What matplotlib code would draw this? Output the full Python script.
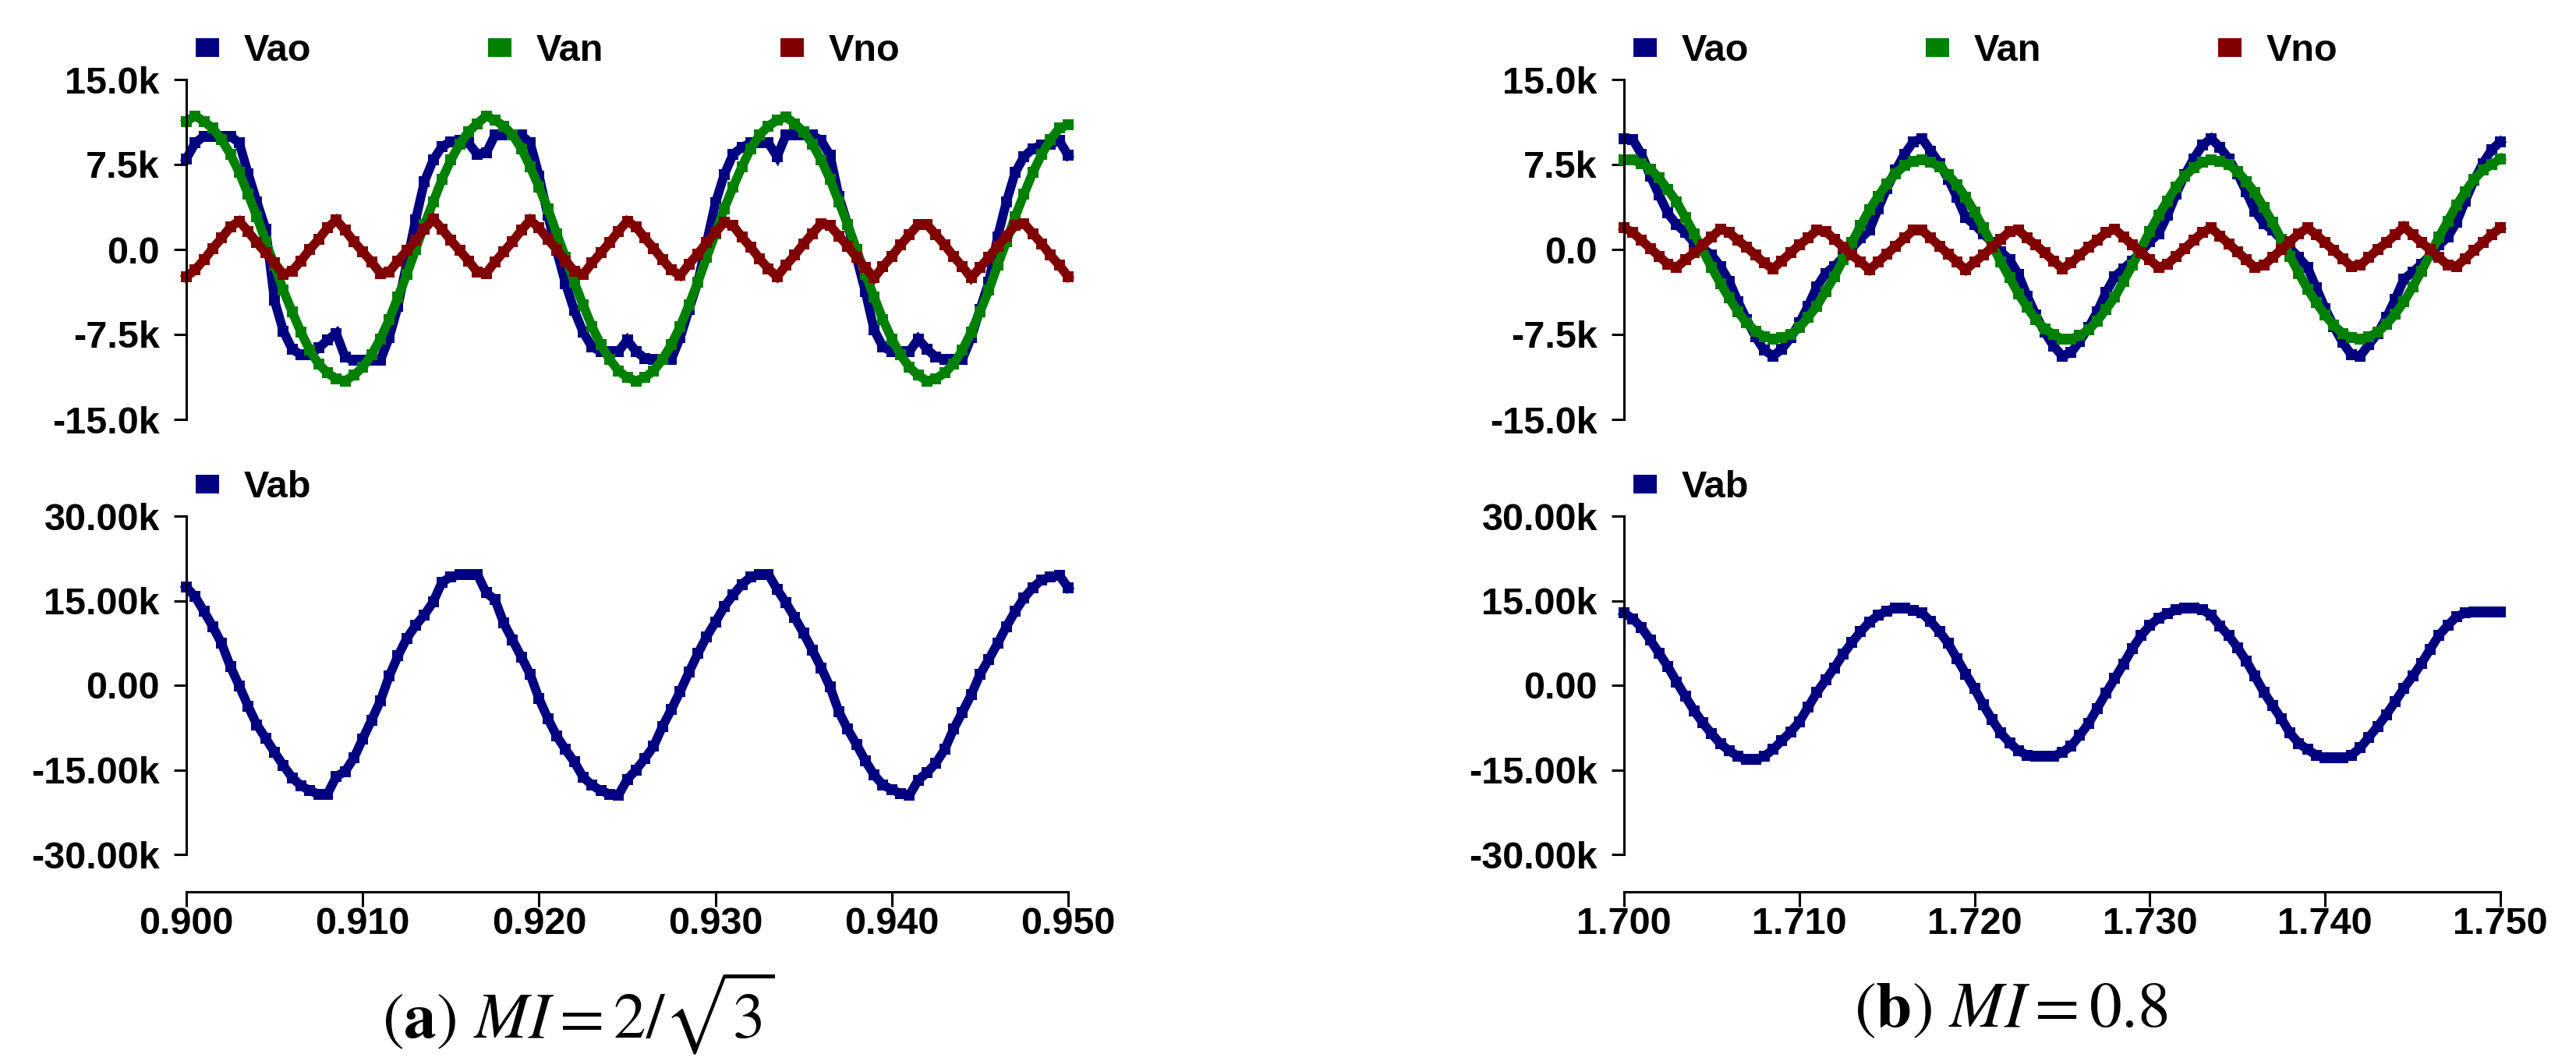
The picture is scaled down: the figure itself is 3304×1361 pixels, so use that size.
"""Tensiones Vao / Van / Vno y Vab para dos índices de modulación."""
import numpy as np
import matplotlib
matplotlib.use("Agg")
import matplotlib.pyplot as plt
from matplotlib.patches import Rectangle

W, H = 3305, 1361
DPI = 100

# muestreo: un valor cada 0.5 ms, 101 muestras
STEP = 0.0005
T0_A, T0_B = 0.900, 1.700

# ---------------------------------------------------------------- (a) MI = 2/sqrt(3)  [k]
vao_a = [8.0, 9.4, 10.0, 10.0, 10.0, 10.0, 9.4, 6.7, 4.2, 1.8,
         -4.5, -7.2, -8.8, -9.3, -9.3, -8.7, -8.0, -7.4, -9.5, -9.8,
         -9.8, -9.8, -9.8, -7.8, -5.0, -1.2, 2.6, 6.0, 7.9, 9.1,
         9.5, 9.6, 9.4, 8.4, 8.5, 10.1, 10.1, 10.1, 10.1, 9.4,
         6.5, 3.0, -0.1, -3.0, -5.4, -7.3, -8.6, -9.0, -9.0, -9.0,
         -8.0, -9.0, -9.6, -9.7, -9.7, -9.7, -7.8, -5.3, -2.9, 0.6,
         4.1, 6.6, 8.4, 9.0, 9.4, 9.4, 9.4, 8.2, 10.1, 10.1,
         10.1, 10.1, 9.6, 8.3, 4.7, 2.2, -0.7, -3.7, -7.1, -8.6,
         -9.0, -9.0, -9.0, -7.9, -8.8, -9.5, -9.7, -9.7, -9.7, -7.8,
         -5.3, -2.9, 1.1, 4.2, 6.8, 8.2, 8.9, 9.2, 9.3, 9.6,
         8.3]
van_a = [11.3, 11.8, 11.3, 10.7, 9.7, 8.4, 6.8, 4.9, 2.9, 0.7,
         -1.4, -3.6, -5.5, -7.3, -8.9, -10.1, -10.9, -11.4, -11.6, -11.1,
         -10.4, -9.3, -7.9, -6.2, -4.2, -2.2, 0.0, 2.2, 4.2, 6.2,
         7.9, 9.3, 10.4, 11.1, 11.8, 11.4, 10.9, 10.1, 8.9, 7.3,
         5.5, 3.6, 1.4, -0.7, -2.9, -4.9, -6.8, -8.4, -9.7, -10.7,
         -11.3, -11.6, -11.3, -10.7, -9.7, -8.4, -6.8, -4.9, -2.9, -0.7,
         1.4, 3.6, 5.5, 7.3, 8.9, 10.1, 10.9, 11.4, 11.7, 11.1,
         10.4, 9.3, 7.9, 6.2, 4.2, 2.2, 0.0, -2.2, -4.2, -6.2,
         -7.9, -9.3, -10.4, -11.1, -11.6, -11.4, -10.9, -10.1, -8.9, -7.3,
         -5.5, -3.6, -1.4, 0.7, 2.9, 4.9, 6.8, 8.4, 9.7, 10.7,
         11.0]
vno_a = [-2.4, -1.8, -0.9, 0.1, 1.0, 2.0, 2.5, 1.6, 0.6, -0.3,
         -1.2, -2.2, -1.9, -1.0, 0.0, 0.9, 1.9, 2.6, 1.7, 0.7,
         -0.2, -1.1, -2.1, -2.0, -1.0, -0.1, 0.8, 1.8, 2.7, 1.8,
         0.8, -0.1, -1.0, -2.0, -2.1, -1.1, -0.2, 0.7, 1.7, 2.6,
         1.9, 0.9, 0.0, -1.0, -1.9, -2.2, -1.2, -0.3, 0.6, 1.6,
         2.5, 2.0, 1.0, 0.1, -0.9, -1.8, -2.3, -1.3, -0.4, 0.6,
         1.5, 2.4, 2.1, 1.1, 0.2, -0.8, -1.7, -2.4, -1.4, -0.5,
         0.5, 1.4, 2.3, 2.1, 1.2, 0.3, -0.7, -1.6, -2.5, -1.5,
         -0.6, 0.4, 1.3, 2.2, 2.2, 1.3, 0.4, -0.6, -1.5, -2.5,
         -1.6, -0.7, 0.3, 1.2, 2.1, 2.3, 1.4, 0.5, -0.5, -1.4,
         -2.4]
vab_a = [17.4, 15.7, 13.1, 10.4, 7.4, 3.3, -0.1, -3.7, -7.0, -9.4,
         -11.9, -14.2, -16.4, -17.8, -18.7, -19.3, -19.3, -16.2, -15.3, -12.9,
         -9.5, -6.2, -2.8, 1.6, 5.2, 8.3, 10.6, 12.5, 14.8, 18.3,
         19.2, 19.6, 19.7, 19.7, 16.4, 15.2, 11.0, 8.0, 5.0, 1.9,
         -2.4, -5.9, -9.0, -11.4, -13.6, -16.3, -17.7, -18.7, -19.3, -19.5,
         -16.7, -15.0, -13.0, -10.8, -7.3, -4.3, -1.1, 2.3, 5.6, 8.6,
         11.2, 13.9, 16.0, 17.9, 19.2, 19.7, 19.7, 17.0, 14.6, 12.0,
         9.2, 6.2, 3.1, -0.3, -4.7, -7.8, -10.5, -13.4, -15.9, -17.7,
         -18.5, -19.2, -19.5, -16.8, -15.5, -13.8, -11.4, -7.8, -4.8, -1.7,
         1.9, 4.6, 7.4, 10.4, 13.1, 15.5, 17.3, 18.7, 19.2, 19.5,
         17.3]

# ---------------------------------------------------------------- (b) MI = 0.8  [k]
vao_b = [9.8, 9.7, 8.4, 6.5, 4.8, 3.2, 2.2, 1.5, 0.6, 0.1,
         -0.5, -1.5, -2.8, -4.6, -6.2, -7.7, -8.9, -9.4, -8.8, -7.8,
         -6.5, -5.0, -3.3, -2.1, -1.5, -0.7, 0.1, 1.0, 1.7, 3.6,
         5.4, 7.0, 8.4, 9.5, 9.8, 8.7, 7.6, 6.2, 4.6, 2.8,
         2.2, 1.4, 0.6, -0.2, -0.9, -2.2, -4.1, -5.8, -7.3, -8.5,
         -9.4, -9.1, -8.1, -6.9, -5.5, -3.8, -2.4, -1.7, -1.0, -0.2,
         0.7, 1.4, 3.0, 4.9, 6.6, 8.0, 9.2, 9.8, 9.0, 8.0,
         6.7, 5.1, 3.4, 2.3, 1.7, 0.9, 0.1, -0.7, -1.6, -3.4,
         -5.2, -6.8, -8.2, -9.3, -9.4, -8.4, -7.4, -6.0, -4.4, -2.6,
         -2.0, -1.3, -0.5, 0.4, 1.1, 2.4, 4.3, 6.1, 7.6, 8.8,
         9.5]
van_b = [7.9, 7.9, 7.6, 7.1, 6.3, 5.3, 4.2, 2.8, 1.4, -0.1,
         -1.6, -3.0, -4.3, -5.5, -6.5, -7.2, -7.7, -7.9, -7.8, -7.5,
         -6.9, -6.0, -5.0, -3.7, -2.4, -0.9, 0.6, 2.1, 3.5, 4.7,
         5.8, 6.7, 7.4, 7.8, 7.9, 7.7, 7.3, 6.6, 5.7, 4.6,
         3.3, 1.9, 0.4, -1.1, -2.5, -3.9, -5.1, -6.2, -7.0, -7.5,
         -7.9, -7.9, -7.6, -7.1, -6.3, -5.3, -4.2, -2.8, -1.4, 0.1,
         1.6, 3.0, 4.3, 5.5, 6.5, 7.2, 7.7, 7.9, 7.8, 7.5,
         6.9, 6.0, 5.0, 3.7, 2.4, 0.9, -0.6, -2.1, -3.5, -4.7,
         -5.8, -6.7, -7.4, -7.8, -7.9, -7.7, -7.3, -6.6, -5.7, -4.6,
         -3.3, -1.9, -0.4, 1.1, 2.5, 3.9, 5.1, 6.2, 7.0, 7.5,
         8.0]
vno_b = [1.9, 1.5, 0.8, 0.1, -0.6, -1.3, -1.6, -0.9, -0.3, 0.4,
         1.1, 1.8, 1.5, 0.8, 0.2, -0.5, -1.2, -1.7, -1.0, -0.3,
         0.4, 1.0, 1.7, 1.6, 0.9, 0.2, -0.5, -1.1, -1.8, -1.1,
         -0.4, 0.3, 1.0, 1.7, 1.7, 1.0, 0.3, -0.4, -1.1, -1.8,
         -1.1, -0.5, 0.2, 0.9, 1.6, 1.7, 1.0, 0.4, -0.3, -1.0,
         -1.7, -1.2, -0.5, 0.2, 0.8, 1.5, 1.8, 1.1, 0.4, -0.3,
         -0.9, -1.6, -1.3, -0.6, 0.1, 0.8, 1.5, 1.9, 1.2, 0.5,
         -0.2, -0.9, -1.6, -1.4, -0.7, 0.0, 0.7, 1.4, 1.9, 1.3,
         0.6, -0.1, -0.8, -1.5, -1.4, -0.7, 0.0, 0.6, 1.3, 2.0,
         1.3, 0.6, 0.0, -0.7, -1.4, -1.5, -0.8, -0.1, 0.6, 1.3,
         1.9]
vab_b = [12.8, 11.8, 10.2, 8.0, 5.7, 3.3, 0.6, -2.0, -4.5, -6.7,
         -8.6, -10.4, -11.6, -12.6, -13.2, -13.2, -12.6, -11.4, -9.8, -8.3,
         -6.5, -3.9, -1.3, 0.9, 3.1, 5.5, 7.6, 9.5, 11.2, 12.4,
         13.2, 13.7, 13.7, 13.3, 12.8, 11.3, 9.5, 7.4, 4.7, 2.0,
         -0.6, -3.5, -6.1, -8.5, -10.2, -11.6, -12.4, -12.6, -12.6, -12.6,
         -11.9, -10.8, -8.9, -6.8, -4.1, -1.4, 1.2, 3.8, 6.5, 8.8,
         10.6, 11.9, 12.7, 13.4, 13.7, 13.7, 13.4, 12.4, 10.5, 8.8,
         6.7, 4.3, 1.6, -1.2, -3.6, -5.9, -8.5, -10.3, -11.4, -12.4,
         -12.9, -12.9, -12.9, -12.4, -11.1, -9.2, -7.3, -5.2, -2.9, -0.5,
         1.6, 3.9, 6.4, 8.9, 10.6, 12.2, 12.8, 13.0, 13.0, 13.0,
         13.0]

TOP_TICKS = [-15000, -7500, 0, 7500, 15000]
TOP_LABELS = ["-15.0k", "-7.5k", "0.0", "7.5k", "15.0k"]
BOT_TICKS = [-30000, -15000, 0, 15000, 30000]
BOT_LABELS = ["-30.00k", "-15.00k", "0.00", "15.00k", "30.00k"]

C_AO, C_AN, C_NO = "#000080", "#008000", "#800000"

plt.rcParams["font.family"] = ["Liberation Sans", "DejaVu Sans"]
plt.rcParams["mathtext.fontset"] = "stix"

FS = 35
LW_AX = 2.2


def px_x(x):
    return x / W


def px_y(y):
    return 1 - y / H


def trace(ax, t, vals, color):
    ax.plot(t, np.asarray(vals) * 1000, color=color, lw=8.5, marker="s", ms=9.5,
            mew=0, clip_on=False, solid_joinstyle="miter")


def style_y(ax, ticks, labels):
    ax.set_ylim(ticks[0], ticks[-1])
    ax.set_yticks(ticks)
    ax.set_yticklabels(labels)
    for s in ("top", "right"):
        ax.spines[s].set_visible(False)
    ax.spines["left"].set_linewidth(LW_AX)
    ax.tick_params(axis="y", direction="out", length=11.5, width=LW_AX,
                   pad=13, labelsize=FS)
    for lab in ax.get_yticklabels():
        lab.set_fontweight("bold")
    ax.patch.set_visible(False)


def legend_row(ax_left, y_center, names, colors):
    for j, (name, c) in enumerate(zip(names, colors)):
        x = ax_left + 12 + j * 375
        fig.add_artist(Rectangle((px_x(x), px_y(y_center + 12)), 30 / W, 24 / H,
                                 transform=fig.transFigure, color=c, lw=0))
        fig.text(px_x(x + 62), px_y(y_center + 17), name, fontsize=FS,
                 fontweight="bold", va="baseline", ha="left")


fig = plt.figure(figsize=(W / DPI, H / DPI), dpi=DPI)

columns = [
    (239, 1370, T0_A, (vao_a, van_a, vno_a, vab_a), r"($\mathbf{a}$) $MI = 2/\sqrt{3}$", 742),
    (2083, 3207, T0_B, (vao_b, van_b, vno_b, vab_b), r"($\mathbf{b}$) $MI = 0.8$", 2579),
]

for x0, x1, t_start, (vao, van, vno, vab), caption, cap_x in columns:
    t = t_start + STEP * np.arange(len(vao))
    left, width = px_x(x0), (x1 - x0) / W

    ax_top = fig.add_axes([left, px_y(538), width, (538 - 102) / H])
    trace(ax_top, t, vao, C_AO)
    trace(ax_top, t, van, C_AN)
    trace(ax_top, t, vno, C_NO)
    ax_top.set_xlim(t_start, t_start + 0.05)
    style_y(ax_top, TOP_TICKS, TOP_LABELS)
    ax_top.spines["bottom"].set_visible(False)
    ax_top.set_xticks([])

    ax_bot = fig.add_axes([left, px_y(1096), width, (1096 - 662) / H])
    trace(ax_bot, t, vab, C_AO)
    ax_bot.set_xlim(t_start, t_start + 0.05)
    style_y(ax_bot, BOT_TICKS, BOT_LABELS)
    ax_bot.spines["bottom"].set_position(("outward", 34.5))
    ax_bot.spines["bottom"].set_linewidth(LW_AX)
    xt = [t_start + 0.01 * k for k in range(6)]
    ax_bot.set_xticks(xt)
    ax_bot.set_xticklabels([f"{v:.3f}" for v in xt])
    ax_bot.tick_params(axis="x", direction="out", length=14, width=LW_AX,
                       pad=0, labelsize=FS)
    for lab in ax_bot.get_xticklabels():
        lab.set_fontweight("bold")

    legend_row(x0, 61, ["Vao", "Van", "Vno"], [C_AO, C_AN, C_NO])
    legend_row(x0, 621, ["Vab"], [C_AO])

    fig.text(px_x(cap_x), px_y(1298), caption, fontsize=60, ha="center",
             va="center", family="STIXGeneral")

fig.savefig("out.png", dpi=DPI)
